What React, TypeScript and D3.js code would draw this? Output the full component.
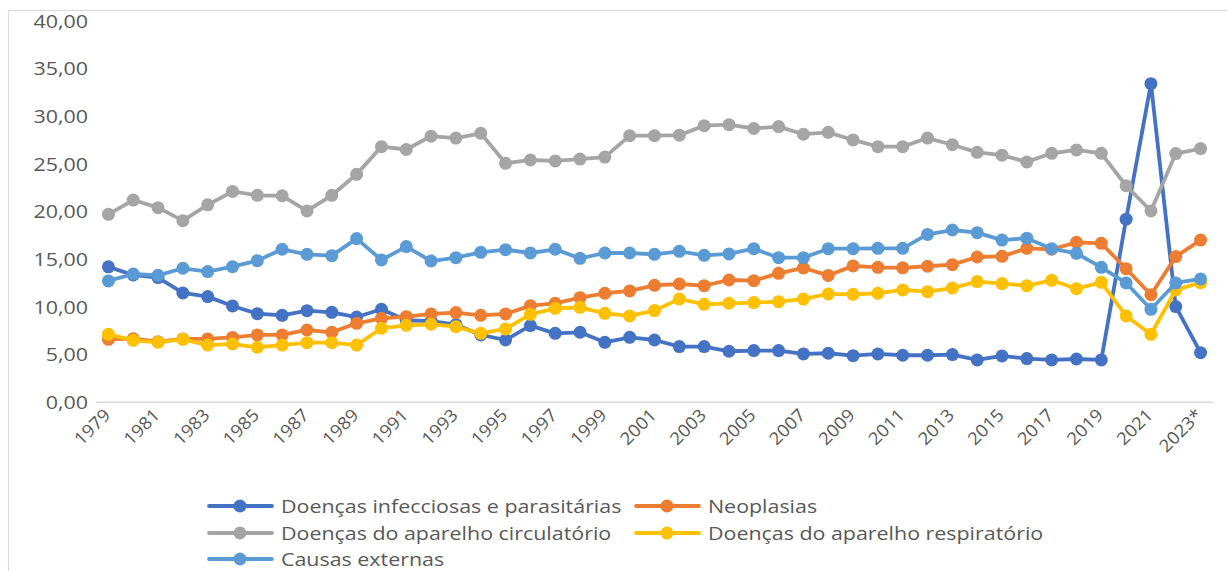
import React from "react";
import * as d3 from "d3";

const years = [
  "1979","1980","1981","1982","1983","1984","1985","1986","1987","1988",
  "1989","1990","1991","1992","1993","1994","1995","1996","1997","1998",
  "1999","2000","2001","2002","2003","2004","2005","2006","2007","2008",
  "2009","2010","2011","2012","2013","2014","2015","2016","2017","2018",
  "2019","2020","2021","2022","2023*",
];

const infecciosas = [
  14.2, 13.35, 13.07, 11.46, 11.08, 10.1, 9.29, 9.12, 9.6, 9.43,
  8.94, 9.75, 8.6, 8.5, 8.15, 7.06, 6.53, 8.04, 7.23, 7.34,
  6.29, 6.81, 6.53, 5.84, 5.84, 5.35, 5.42, 5.42, 5.07, 5.14,
  4.89, 5.07, 4.93, 4.93, 5.0, 4.44, 4.86, 4.58, 4.44, 4.54,
  4.44, 19.2, 33.4, 10.03, 5.2,
];

const neoplasias = [
  6.6, 6.67, 6.36, 6.64, 6.64, 6.8, 7.06, 7.06, 7.58, 7.34,
  8.28, 8.8, 8.98, 9.26, 9.4, 9.12, 9.26, 10.13, 10.38, 10.97,
  11.43, 11.67, 12.26, 12.4, 12.23, 12.82, 12.75, 13.52, 14.08, 13.3,
  14.3, 14.15, 14.1, 14.26, 14.43, 15.23, 15.3, 16.14, 16.04, 16.77,
  16.66, 14.0, 11.28, 15.27, 17.0,
];

const circulatorio = [
  19.7, 21.2, 20.4, 19.04, 20.7, 22.1, 21.7, 21.65, 20.06, 21.7,
  23.9, 26.8, 26.5, 27.9, 27.7, 28.2, 25.05, 25.4, 25.3, 25.5,
  25.7, 27.95, 27.95, 28.0, 29.0, 29.1, 28.7, 28.9, 28.1, 28.3,
  27.5, 26.8, 26.8, 27.7, 27.0, 26.2, 25.9, 25.2, 26.1, 26.45,
  26.1, 22.7, 20.06, 26.07, 26.6,
];

const respiratorio = [
  7.13, 6.5, 6.29, 6.6, 6.0, 6.11, 5.77, 6.0, 6.25, 6.25,
  6.0, 7.76, 8.07, 8.18, 7.93, 7.23, 7.69, 9.22, 9.85, 9.96,
  9.33, 9.05, 9.61, 10.83, 10.27, 10.38, 10.45, 10.55, 10.82, 11.36,
  11.32, 11.43, 11.78, 11.6, 11.98, 12.65, 12.44, 12.23, 12.79, 11.91,
  12.58, 9.05, 7.13, 11.78, 12.54,
];

const externas = [
  12.72, 13.45, 13.31, 14.05, 13.7, 14.22, 14.85, 16.04, 15.51, 15.37,
  17.16, 14.92, 16.32, 14.81, 15.16, 15.72, 16.0, 15.65, 16.04, 15.09,
  15.65, 15.65, 15.51, 15.83, 15.41, 15.55, 16.1, 15.16, 15.16, 16.1,
  16.1, 16.14, 16.14, 17.6, 18.06, 17.78, 17.0, 17.2, 16.1, 15.62,
  14.15, 12.51, 9.75, 12.51, 12.93,
];

const yTicks = [0, 5, 10, 15, 20, 25, 30, 35, 40];

const seriesNames = [
  "Doenças infecciosas e parasitárias",
  "Neoplasias",
  "Doenças do aparelho circulatório",
  "Doenças do aparelho respiratório",
  "Causas externas",
];
const seriesValues = [infecciosas, neoplasias, circulatorio, respiratorio, externas];
const seriesColors = ["#4472C4", "#ED7D31", "#A5A5A5", "#FFC000", "#5B9BD5"];

const W = 1227;
const H = 571;
const FONT = "'Open Sans', 'DejaVu Sans', sans-serif";
const TEXT = "#595959";
const STRETCH = 1.19;

export default function App() {
  const x = d3.scaleBand<string>().domain(years).range([96, 1213]).paddingInner(0).paddingOuter(0);
  const cx = (d: string) => (x(d) as number) + x.bandwidth() / 2;
  const y = d3.scaleLinear().domain([0, 40]).range([402.3, 20.7]);
  const fmt = (v: number) => d3.format(".2f")(v).replace(".", ",");
  const line = d3
    .line<number>()
    .x((_, i) => cx(years[i]))
    .y((v) => y(v));

  const legendPos = [
    { lx: 209, ly: 506 },
    { lx: 636, ly: 506 },
    { lx: 209, ly: 533 },
    { lx: 636, ly: 533 },
    { lx: 209, ly: 559 },
  ];

  return (
    <svg
      width={W}
      height={H}
      style={{ position: "absolute", left: 0, top: 0, background: "#fff" }}
      fontFamily={FONT}
    >
      <rect x={8.5} y={10.5} width={1240} height={620} fill="#fff" stroke="#d9d9d9" strokeWidth={1.2} />

      {yTicks.map((t) => (
        <text
          key={t}
          transform={`translate(88,${y(t)}) scale(${STRETCH},1)`}
          textAnchor="end"
          dominantBaseline="central"
          fontSize={18}
          fill={TEXT}
        >
          {fmt(t)}
        </text>
      ))}

      <line x1={96} x2={1213} y1={y(0)} y2={y(0)} stroke="#d9d9d9" strokeWidth={1.5} />

      {years.map((yr, i) =>
        i % 2 === 0 ? (
          <text
            key={yr}
            transform={`translate(${cx(yr) + 3},${y(0) + 14}) rotate(-45) scale(1.06,1)`}
            textAnchor="end"
            fontSize={17.5}
            fill={TEXT}
          >
            {yr}
          </text>
        ) : null
      )}

      {seriesValues.map((vals, s) => (
        <g key={s}>
          <path d={line(vals) as string} fill="none" stroke={seriesColors[s]} strokeWidth={3.8} strokeLinejoin="round" />
          {vals.map((v, i) => (
            <circle key={i} cx={cx(years[i])} cy={y(v)} r={6.5} fill={seriesColors[s]} />
          ))}
        </g>
      ))}

      {seriesNames.map((name, s) => {
        const { lx, ly } = legendPos[s];
        return (
          <g key={name}>
            <line x1={lx} x2={lx + 63} y1={ly} y2={ly} stroke={seriesColors[s]} strokeWidth={3.8} strokeLinecap="round" />
            <circle cx={lx + 31} cy={ly} r={6.5} fill={seriesColors[s]} />
            <text
              transform={`translate(${lx + 72},${ly}) scale(${STRETCH},1)`}
              dominantBaseline="central"
              fontSize={18}
              fill={TEXT}
            >
              {name}
            </text>
          </g>
        );
      })}
    </svg>
  );
}
